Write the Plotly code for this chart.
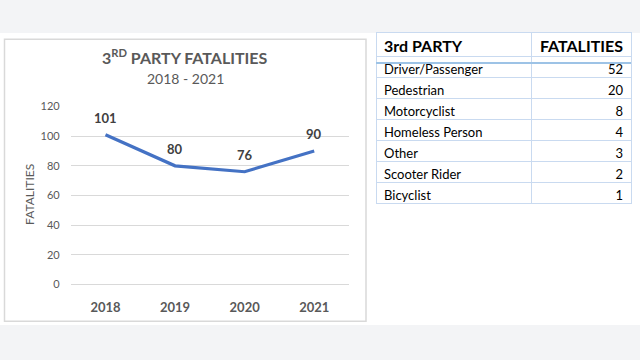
import plotly.graph_objects as go

years = ["2018", "2019", "2020", "2021"]
fatalities = [101, 80, 76, 90]
y_ticks = [0, 20, 40, 60, 80, 100, 120]

party_types = ["Driver/Passenger", "Pedestrian", "Motorcyclist", "Homeless Person",
               "Other", "Scooter Rider", "Bicyclist"]
party_counts = [52, 20, 8, 4, 3, 2, 1]
table_headers = ["3rd PARTY", "FATALITIES"]

W, H = 640, 360
def px(x): return x / W
def py(y): return 1 - y / H

FONT = "Lato, 'Open Sans', sans-serif"
GREY = "#595959"

fig = go.Figure()

fig.add_trace(go.Scatter(
    x=list(range(len(years))), y=fatalities, mode="lines",
    line=dict(color="#4472c4", width=3.2),
    hoverinfo="skip", showlegend=False,
))

for i, v in enumerate(fatalities):
    fig.add_annotation(x=i, y=v, xref="x", yref="y", text=f"<b>{v}</b>",
                       showarrow=False, yshift=17, xanchor="center", yanchor="middle",
                       font=dict(family=FONT, size=13, color="#404040"))

fig.add_trace(go.Table(
    domain=dict(x=[px(376), px(631)], y=[py(232), py(26)]),
    columnwidth=[155, 100],
    header=dict(values=table_headers,
                align=["left", "right"], height=24,
                fill_color="white",
                line=dict(color="#c9daf0", width=1),
                font=dict(family=FONT, size=16, color="#000000", weight="bold")),
    cells=dict(values=[party_types, party_counts],
               align=["left", "right"], height=21,
               fill_color="white",
               line=dict(color="#c9daf0", width=1),
               font=dict(family=FONT, size=13, color="#000000")),
))

shapes = [
    dict(type="rect", xref="paper", yref="paper", x0=0, x1=1, y0=py(330), y1=py(27),
         fillcolor="white", line=dict(width=0), layer="below"),
    dict(type="rect", xref="paper", yref="paper", x0=px(4.5), x1=px(366), y0=py(326), y1=py(33.5),
         fillcolor="rgba(0,0,0,0)", line=dict(color="#d9d9d9", width=1.5), layer="below"),
    dict(type="line", xref="paper", yref="paper", x0=px(376), x1=px(631), y0=py(58), y1=py(58),
         line=dict(color="#9dc3e6", width=2), layer="above"),
]

annotations_extra = [
    dict(x=px(185), y=py(51), xref="paper", yref="paper", showarrow=False,
         xanchor="center", yanchor="middle",
         text="<b>3<sup>RD</sup> PARTY FATALITIES</b>",
         font=dict(family=FONT, size=16, color=GREY)),
    dict(x=px(185), y=py(74), xref="paper", yref="paper", showarrow=False,
         xanchor="center", yanchor="middle",
         text="2018 - 2021", font=dict(family=FONT, size=14, color=GREY)),
    dict(x=px(30), y=py(195), xref="paper", yref="paper", showarrow=False,
         xanchor="center", yanchor="middle",
         text="FATALITIES", textangle=-90, font=dict(family=FONT, size=12, color=GREY)),
]
for a in annotations_extra:
    fig.add_annotation(**a)

fig.update_layout(
    width=W, height=H, margin=dict(l=0, r=0, t=0, b=0),
    paper_bgcolor="#f3f4f6", plot_bgcolor="rgba(0,0,0,0)",
    shapes=shapes, showlegend=False,
    xaxis=dict(domain=[px(70.7), px(349)], range=[-0.5, 3.5],
               tickvals=list(range(len(years))), ticktext=years,
               showgrid=False, showline=False, zeroline=False, ticks="",
               ticklabelstandoff=14,
               tickfont=dict(family=FONT, size=13, color=GREY, weight="bold")),
    yaxis=dict(domain=[py(287.7), py(103.3)], range=[0, 120], tickvals=y_ticks,
               showgrid=True, gridcolor="#d9d9d9", gridwidth=1,
               zeroline=True, zerolinecolor="#d9d9d9", zerolinewidth=1,
               showline=False, ticks="", ticklabelstandoff=10,
               tickfont=dict(family=FONT, size=11, color=GREY)),
)

fig.write_html("out.html")
